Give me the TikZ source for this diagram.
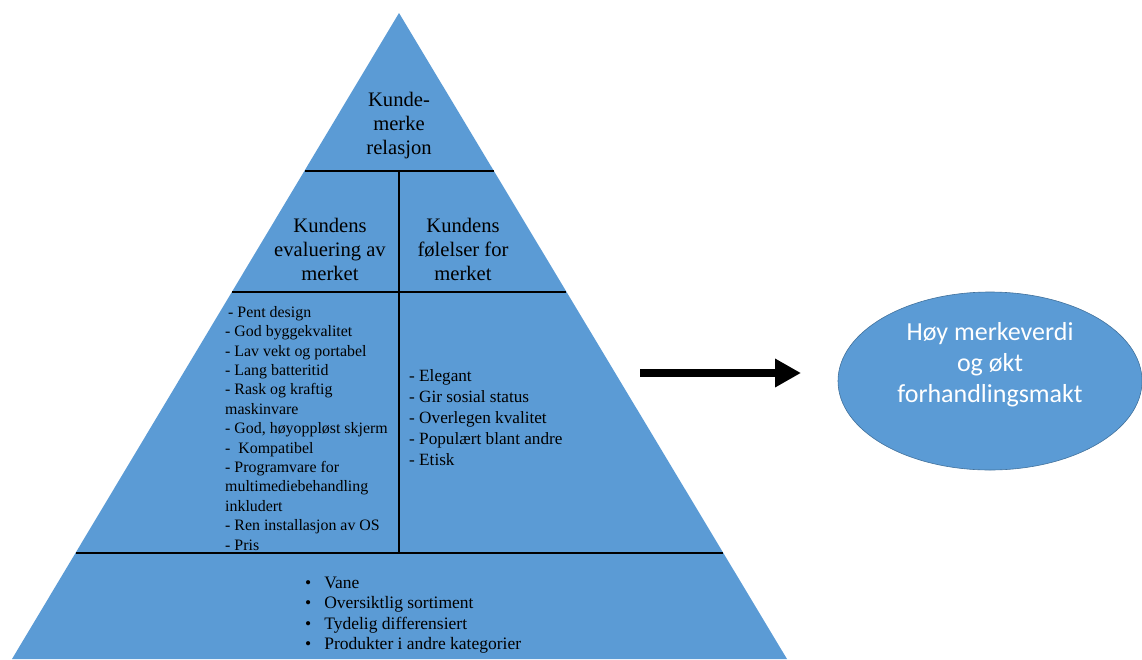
\documentclass[tikz,border=0pt]{standalone}
\usepackage{fontspec}
\setmainfont{Liberation Serif}
\newfontfamily\carlitofont{Carlito}
\usetikzlibrary{shapes.geometric,arrows.meta}
\definecolor{pyrblue}{HTML}{5B9BD5}
\definecolor{pyredge}{HTML}{41719C}
\tikzset{
  divline/.style={draw=black, line width=1.4pt},
  headtxt/.style={align=center, font=\fontsize{20.6}{24}\selectfont, inner sep=0pt},
  listtxt/.style={align=left, anchor=north west, font=\fontsize{15.9}{19.4}\selectfont, inner sep=0pt},
  goal/.style={ellipse, fill=pyrblue, draw=pyredge, line width=0.6pt, minimum width=304pt, minimum height=178pt, inner sep=0pt, text=white, align=center, font=\carlitofont\fontsize{26}{31}\selectfont},
  bigarrow/.style={line width=8pt, -{Triangle[length=26pt,width=27pt]}}
}
\begin{document}
\begin{tikzpicture}[x=1pt,y=-1pt]
\useasboundingbox (0,0) rectangle (1142,659);
\begin{scope}
\clip (0,0) rectangle (1142,659);
\fill[pyrblue] (399,13) -- (12,659) -- (787,659) -- cycle;
\end{scope}
% dividers
\coordinate (h1l) at (304.5,171); \coordinate (h1r) at (493.5,171);
\coordinate (h2l) at (232,292); \coordinate (h2r) at (566,292);
\coordinate (h3l) at (75.5,553); \coordinate (h3r) at (722.5,553);
\coordinate (vt) at (399,171); \coordinate (vb) at (399,553);
\draw[divline] (h1l) -- (h1r);
\draw[divline] (h2l) -- (h2r);
\draw[divline] (h3l) -- (h3r);
\draw[divline] (vt) -- (vb);
% texts
\node[headtxt] (top) at (399,126) {Kunde-\\merke\\relasjon};
\node[headtxt] (evalh) at (330,249) {Kundens\\evaluering av\\merket};
\node[headtxt] (feelh) at (463,249) {Kundens\\følelser for\\merket};
\node[listtxt] (evallist) at (225,306) {\hspace{3pt}- Pent design\\- God byggekvalitet\\- Lav vekt og portabel\\- Lang batteritid\\- Rask og kraftig\\maskinvare\\- God, høyoppløst skjerm\\-\ \ Kompatibel\\- Programvare for\\multimediebehandling\\inkludert\\- Ren installasjon av OS\\- Pris};
\node[listtxt, font=\fontsize{17.2}{21}\selectfont] (feellist) at (409,369) {- Elegant\\- Gir sosial status\\- Overlegen kvalitet\\- Populært blant andre\\- Etisk};
\node[listtxt, font=\fontsize{17.5}{20.3}\selectfont] (baselist) at (305,577) {•\hspace{13pt}Vane\\•\hspace{13pt}Oversiktlig sortiment\\•\hspace{13pt}Tydelig differensiert\\•\hspace{13pt}Produkter i andre kategorier};
% goal
\node[goal] (goal) at (990,381) {Høy merkeverdi\\og økt\\forhandlingsmakt\\[6pt]};
\coordinate (arrs) at (640,373);
\coordinate (arre) at (801,373);
\draw[bigarrow] (arrs) -- (arre);
\end{tikzpicture}
\end{document}
